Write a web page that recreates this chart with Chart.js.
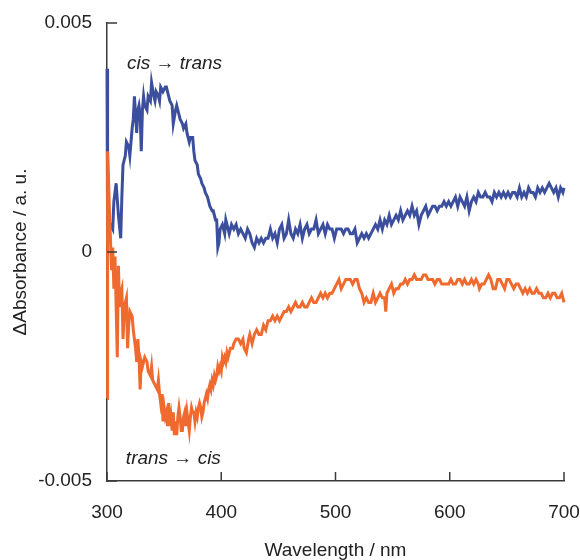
<!DOCTYPE html>
<html>
<head>
<meta charset="utf-8">
<script src="https://cdn.jsdelivr.net/npm/chart.js@4.4.1/dist/chart.umd.min.js"></script>
<style>
  html, body { margin: 0; padding: 0; background: #fff; }
</style>
</head>
<body>
<canvas id="spectra" width="580" height="560"></canvas>
<script>
// wavelength (nm), delta absorbance
const cisToTrans = [
  [300, 0.0040], [300.5, 0.0004], [303, 0.0006], [305, 0.0005], [306, 0.0011], [308, 0.0015], [310, 0.0008],
  [312, 0.0003], [313, 0.0012], [314, 0.0019], [316, 0.0021], [317, 0.0024], [319, 0.0023], [320, 0.0021],
  [322, 0.0027], [323, 0.0029], [324, 0.0034], [325, 0.0030], [326, 0.0026], [327, 0.0031], [328, 0.0032],
  [329, 0.0030], [330, 0.0022], [331, 0.0031], [332, 0.0034], [333, 0.0032], [335, 0.0031], [336, 0.0034],
  [338, 0.0033], [339, 0.0037], [341, 0.0034], [342, 0.0033], [343, 0.0035], [345, 0.0034], [346, 0.0033],
  [347, 0.0036], [349, 0.0035], [351, 0.0036], [352, 0.0036], [354, 0.0034], [355, 0.0033], [357, 0.0032],
  [358, 0.0028], [360, 0.0031], [361, 0.0032], [363, 0.0030], [364, 0.0029], [366, 0.0028], [367, 0.0027],
  [369, 0.0028], [370, 0.0026], [372, 0.0024], [373, 0.0025], [375, 0.0025], [376, 0.0022], [377, 0.0020],
  [379, 0.0019], [380, 0.0017], [382, 0.0016], [383, 0.0015], [385, 0.0014], [386, 0.0013], [388, 0.0012],
  [390, 0.0010], [392, 0.0009], [393, 0.0009], [395, 0.0007], [396, 0.0007], [397, 0.0001], [398, 0.0002],
  [399, 0.0005], [401, 0.0006], [403, 0.0004], [404, 0.0007], [406, 0.0005], [407, 0.0004], [409, 0.0006],
  [411, 0.0005], [413, 0.0006], [415, 0.0004], [417, 0.0005], [419, 0.0004], [421, 0.0003], [423, 0.0005],
  [425, 0.0004], [427, 0.0002], [429, 0.0001], [431, 0.0003], [433, 0.0002], [435, 0.0003], [437, 0.0002],
  [439, 0.0003], [441, 0.0003], [443, 0.0005], [445, 0.0003], [447, 0.0004], [449, 0.0002], [451, 0.0005],
  [453, 0.0006], [455, 0.0003], [457, 0.0004], [459, 0.0007], [461, 0.0004], [463, 0.0003], [465, 0.0005],
  [467, 0.0004], [469, 0.0006], [471, 0.0003], [473, 0.0005], [475, 0.0006], [477, 0.0004], [479, 0.0005],
  [481, 0.0005], [483, 0.0007], [485, 0.0004], [487, 0.0005], [489, 0.0006], [491, 0.0004], [493, 0.0006],
  [495, 0.0005], [497, 0.0005], [499, 0.0003], [501, 0.0005], [503, 0.0005], [505, 0.0005], [507, 0.0004],
  [509, 0.0005], [511, 0.0005], [513, 0.0004], [515, 0.0004], [517, 0.0005], [519, 0.0002], [521, 0.0003],
  [523, 0.0004], [525, 0.0003], [527, 0.0004], [529, 0.0003], [531, 0.0004], [533, 0.0005], [535, 0.0006],
  [537, 0.0005], [539, 0.0007], [541, 0.0005], [543, 0.0007], [545, 0.0006], [547, 0.0008], [549, 0.0006],
  [551, 0.0007], [553, 0.0008], [555, 0.0007], [557, 0.0009], [559, 0.0007], [561, 0.0008], [563, 0.0009],
  [565, 0.0008], [567, 0.0010], [569, 0.0008], [571, 0.0009], [573, 0.0006], [575, 0.0008], [577, 0.0009],
  [579, 0.0010], [581, 0.0008], [583, 0.0009], [585, 0.0010], [587, 0.0010], [589, 0.0009], [591, 0.0010],
  [593, 0.0010], [595, 0.0011], [597, 0.0010], [599, 0.0011], [601, 0.0010], [603, 0.0011], [605, 0.0012],
  [607, 0.0010], [609, 0.0012], [611, 0.0011], [613, 0.0010], [615, 0.0012], [617, 0.0009], [619, 0.0011],
  [621, 0.0012], [623, 0.0011], [625, 0.0013], [627, 0.0012], [629, 0.0012], [631, 0.0013], [633, 0.0012],
  [635, 0.0012], [637, 0.0011], [639, 0.0013], [641, 0.0012], [643, 0.0013], [645, 0.0012], [647, 0.0013],
  [649, 0.0012], [651, 0.0013], [653, 0.0012], [655, 0.0013], [657, 0.0013], [659, 0.0012], [661, 0.0014],
  [663, 0.0012], [665, 0.0013], [667, 0.0012], [669, 0.0014], [671, 0.0013], [673, 0.0013], [675, 0.0012],
  [677, 0.0014], [679, 0.0013], [681, 0.0014], [683, 0.0013], [685, 0.0014], [687, 0.0015], [689, 0.0014],
  [691, 0.0013], [693, 0.0014], [695, 0.0012], [697, 0.0014], [699, 0.0013], [700, 0.0014]
];

const transToCis = [
  [300, -0.0032], [300.5, 0.0022], [301, 0.0019], [302, 0.0010], [303, 0.0003], [304, -0.0004], [305, 0.0001],
  [306, -0.0008], [307, -0.0001], [308, -0.0012], [309, -0.0023], [310, -0.0003], [311, -0.0012], [312, -0.0009],
  [313, -0.0008], [314, -0.0019], [315, -0.0014], [316, -0.0011], [317, -0.0010], [318, -0.0021], [319, -0.0016],
  [320, -0.0013], [322, -0.0014], [323, -0.0017], [324, -0.0019], [325, -0.0021], [326, -0.0024], [327, -0.0019],
  [328, -0.0023], [329, -0.0030], [330, -0.0024], [331, -0.0025], [333, -0.0023], [335, -0.0024], [336, -0.0026],
  [338, -0.0027], [339, -0.0025], [340, -0.0028], [342, -0.0029], [344, -0.0030], [345, -0.0028], [346, -0.0031],
  [347, -0.0033], [348, -0.0031], [349, -0.0037], [350, -0.0034], [351, -0.0036], [352, -0.0035], [353, -0.0038],
  [354, -0.0033], [355, -0.0038], [356, -0.0036], [357, -0.0039], [358, -0.0035], [359, -0.0040], [360, -0.0037],
  [361, -0.0040], [362, -0.0036], [363, -0.0034], [364, -0.0036], [365, -0.0039], [366, -0.0039], [367, -0.0036],
  [368, -0.0035], [369, -0.0038], [370, -0.0035], [371, -0.0037], [372, -0.0039], [373, -0.0036], [374, -0.0034],
  [375, -0.0035], [376, -0.0035], [377, -0.0037], [378, -0.0035], [379, -0.0036], [380, -0.0034], [381, -0.0033],
  [382, -0.0034], [383, -0.0036], [384, -0.0035], [385, -0.0033], [386, -0.0032], [387, -0.0031], [388, -0.0032],
  [389, -0.0030], [390, -0.0029], [391, -0.0030], [392, -0.0028], [393, -0.0029], [394, -0.0027], [395, -0.0028],
  [396, -0.0027], [397, -0.0025], [398, -0.0026], [399, -0.0025], [400, -0.0026], [401, -0.0023], [402, -0.0024],
  [403, -0.0023], [404, -0.0024], [405, -0.0022], [406, -0.0023], [408, -0.0021], [410, -0.0021], [411, -0.0020],
  [413, -0.0019], [415, -0.0019], [417, -0.0020], [419, -0.0019], [420, -0.0021], [422, -0.0022], [424, -0.0019],
  [425, -0.0018], [427, -0.0020], [429, -0.0018], [431, -0.0017], [433, -0.0018], [435, -0.0018], [437, -0.0016],
  [439, -0.0017], [441, -0.0015], [443, -0.0015], [445, -0.0014], [447, -0.0015], [449, -0.0014], [451, -0.0015],
  [453, -0.0014], [455, -0.0013], [457, -0.0013], [459, -0.0012], [461, -0.0013], [463, -0.0012], [465, -0.0011],
  [467, -0.0012], [469, -0.0012], [471, -0.0011], [473, -0.0012], [475, -0.0012], [477, -0.0011], [479, -0.0010],
  [481, -0.0011], [483, -0.0011], [485, -0.0010], [487, -0.0009], [489, -0.0010], [491, -0.0009], [493, -0.0010],
  [495, -0.0009], [497, -0.0009], [499, -0.0008], [501, -0.0007], [503, -0.0006], [505, -0.0008], [507, -0.0007],
  [509, -0.0006], [511, -0.0006], [513, -0.0006], [515, -0.0007], [517, -0.0006], [519, -0.0006], [521, -0.0008],
  [523, -0.0009], [525, -0.0011], [527, -0.0010], [529, -0.0011], [531, -0.0011], [533, -0.0009], [535, -0.0011],
  [537, -0.0010], [539, -0.0009], [541, -0.0010], [543, -0.0010], [544, -0.0013], [545, -0.0009], [547, -0.0008],
  [549, -0.0007], [551, -0.0009], [553, -0.0008], [555, -0.0008], [557, -0.0007], [559, -0.0007], [561, -0.0006],
  [563, -0.0007], [565, -0.0006], [567, -0.0006], [569, -0.0005], [571, -0.0006], [573, -0.0006], [575, -0.0006],
  [577, -0.0005], [579, -0.0005], [581, -0.0006], [583, -0.0006], [585, -0.0006], [587, -0.0007], [589, -0.0006],
  [591, -0.0006], [593, -0.0007], [595, -0.0007], [597, -0.0007], [599, -0.0007], [601, -0.0006], [603, -0.0007],
  [605, -0.0007], [607, -0.0006], [609, -0.0006], [611, -0.0007], [613, -0.0006], [615, -0.0007], [617, -0.0007],
  [619, -0.0006], [621, -0.0007], [623, -0.0006], [625, -0.0007], [626, -0.0008], [628, -0.0007], [630, -0.0007],
  [632, -0.0006], [634, -0.0005], [636, -0.0006], [638, -0.0008], [640, -0.0008], [642, -0.0006], [644, -0.0006],
  [646, -0.0007], [648, -0.0008], [650, -0.0006], [652, -0.0006], [654, -0.0007], [656, -0.0008], [658, -0.0007],
  [660, -0.0007], [662, -0.0008], [664, -0.0009], [666, -0.0008], [668, -0.0009], [670, -0.0008], [672, -0.0009],
  [674, -0.0009], [676, -0.0008], [678, -0.0009], [680, -0.0009], [682, -0.0010], [684, -0.0010], [686, -0.0009],
  [688, -0.0010], [690, -0.0009], [692, -0.0009], [694, -0.0010], [696, -0.0010], [698, -0.0009], [699, -0.0010],
  [700, -0.0011]
];

const xTicks = [300, 400, 500, 600, 700];
const yTicks = [-0.005, 0, 0.005];
const yTickLabels = ['-0.005', '0', '0.005'];

// labels placed inside the plot, in data coords
const notes = [
  { text: 'cis \u2192 trans', x: 317.5, y: 0.00412 },
  { text: 'trans \u2192 cis', x: 316.5, y: -0.00452 }
];

const FONT = "'Liberation Sans', Arial, Helvetica, sans-serif";
const AXIS = '#3a3a3a';

// inward tick marks + the two italic labels
const extras = {
  id: 'extras',
  afterDatasetsDraw(chart) {
    const { ctx, scales: { x, y }, chartArea } = chart;
    ctx.save();
    ctx.strokeStyle = AXIS;
    ctx.lineWidth = 1.5;
    ctx.beginPath();
    xTicks.forEach(v => {
      const px = x.getPixelForValue(v);
      ctx.moveTo(px, chartArea.bottom);
      ctx.lineTo(px, chartArea.bottom - 9);
    });
    yTicks.forEach(v => {
      const py = y.getPixelForValue(v);
      ctx.moveTo(chartArea.left, py);
      ctx.lineTo(chartArea.left + 10, py);
    });
    ctx.stroke();

    ctx.fillStyle = '#222';
    ctx.font = 'italic 19px ' + FONT;
    ctx.textAlign = 'left';
    ctx.textBaseline = 'middle';
    notes.forEach(n => {
      ctx.fillText(n.text, x.getPixelForValue(n.x), y.getPixelForValue(n.y));
    });
    ctx.restore();
  }
};

const toPoints = arr => arr.map(p => ({ x: p[0], y: p[1] }));

new Chart(document.getElementById('spectra'), {
  type: 'line',
  data: {
    datasets: [
      {
        label: 'trans \u2192 cis',
        data: toPoints(transToCis),
        borderColor: '#ee6a2e',
        borderWidth: 3,
        pointRadius: 0,
        tension: 0,
        clip: false
      },
      {
        label: 'cis \u2192 trans',
        data: toPoints(cisToTrans),
        borderColor: '#3b4f9e',
        borderWidth: 3,
        pointRadius: 0,
        tension: 0,
        clip: false
      }
    ]
  },
  options: {
    responsive: false,
    animation: false,
    layout: { padding: { top: 23, right: 16, bottom: 0, left: 0 } },
    plugins: {
      legend: { display: false },
      tooltip: { enabled: false }
    },
    scales: {
      x: {
        type: 'linear',
        min: 300,
        max: 700,
        afterFit: s => { s.height = 79; s.paddingLeft = 0; s.paddingRight = 0; },
        afterBuildTicks: s => { s.ticks = xTicks.map(v => ({ value: v })); },
        grid: { display: false, drawTicks: false },
        border: { display: true, color: AXIS, width: 1.5 },
        ticks: { padding: 20, color: '#222', font: { family: FONT, size: 19 } },
        title: {
          display: true,
          text: 'Wavelength / nm',
          color: '#222',
          padding: { top: 0, bottom: -2 },
          font: { family: FONT, size: 19 }
        }
      },
      y: {
        type: 'linear',
        min: -0.005,
        max: 0.005,
        afterFit: s => { s.width = 107; s.paddingTop = 0; s.paddingBottom = 0; },
        afterBuildTicks: s => { s.ticks = yTicks.map(v => ({ value: v })); },
        grid: { display: false, drawTicks: false },
        border: { display: true, color: AXIS, width: 1.5 },
        ticks: {
          padding: 15,
          color: '#222',
          font: { family: FONT, size: 19 },
          callback: (v, i) => yTickLabels[i]
        },
        title: {
          display: true,
          text: '\u0394Absorbance / a. u.',
          color: '#222',
          padding: { top: 9, bottom: 0 },
          font: { family: FONT, size: 19 }
        }
      }
    }
  },
  plugins: [extras]
});
</script>
</body>
</html>
